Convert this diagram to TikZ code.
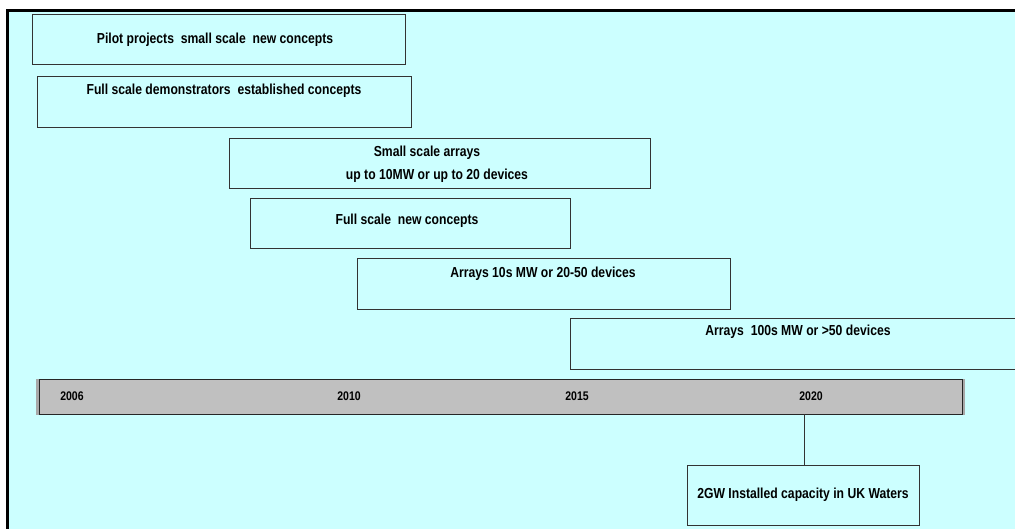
\documentclass[tikz,border=0pt]{standalone}
\usepackage{fontspec}
\setmainfont{Liberation Sans}[FakeStretch=0.84]
\definecolor{bgcyan}{HTML}{CCFFFF}
\definecolor{bargray}{HTML}{C0C0C0}
\definecolor{shadowgray}{HTML}{A8A8A8}
\begin{document}
\begin{tikzpicture}[x=1pt,y=-1pt,
  box/.style={draw=black!80, line width=0.7pt, fill=bgcyan, anchor=north west, inner sep=0pt},
  txt/.style={font=\bfseries\fontsize{14.5}{17}\selectfont, inner sep=0pt, align=center},
  yr/.style={font=\bfseries\fontsize{12.5}{14}\selectfont, inner sep=0pt}]
\useasboundingbox (0,0) rectangle (1015,529);
\fill[white] (0,0) rectangle (1015,529);
\fill[bgcyan] (9,12) rectangle (1015,529);
\fill[black] (6,9) rectangle (1015,12);
\fill[black] (6,9) rectangle (9,529);
\begin{scope}
\clip (0,0) rectangle (1015,529);
% boxes
\node[box, minimum width=373pt, minimum height=50pt] (pilot) at (32,14) {};
\node[txt] (pilotT) at (215,40) {Pilot projects\ \ small scale\ \ new concepts};
\node[box, minimum width=374pt, minimum height=51pt] (demo) at (37,76) {};
\node[txt] (demoT) at (224,91) {Full scale demonstrators\ \ established concepts};
\node[box, minimum width=421pt, minimum height=50pt] (small) at (229,138) {};
\node[txt] (smallT1) at (427,153) {Small scale arrays};
\node[txt] (smallT2) at (437,176) {up to 10MW or up to 20 devices};
\node[box, minimum width=320pt, minimum height=50pt] (fullnew) at (250,198) {};
\node[txt] (fullnewT) at (407,221) {Full scale\ \ new concepts};
\node[box, minimum width=373pt, minimum height=51pt] (arr10) at (357,258) {};
\node[txt] (arr10T) at (543,274) {Arrays 10s MW or 20-50 devices};
\node[box, minimum width=460pt, minimum height=51pt] (arr100) at (570,318) {};
\node[txt] (arr100T) at (798,332) {Arrays\ \ 100s MW or >50 devices};
% timeline bar
\fill[shadowgray] (36,379) rectangle (965,415);
\node[draw=black!85, line width=0.8pt, fill=bargray, anchor=north west, inner sep=0pt,
      minimum width=923pt, minimum height=35pt] (bar) at (39,379) {};
\node[yr] (y2006) at (72,396) {2006};
\node[yr] (y2010) at (349,396) {2010};
\node[yr] (y2015) at (577,396) {2015};
\node[yr] (y2020) at (811,396) {2020};
\coordinate (tick) at (804,414);
% goal
\node[box, minimum width=232pt, minimum height=60pt] (goal) at (687,465) {};
\node[txt] (goalT) at (803,495) {2GW Installed capacity in UK Waters};
\draw[black!80, line width=0.7pt] (tick) -- (goal.north -| tick);
\end{scope}
\end{tikzpicture}
\end{document}
